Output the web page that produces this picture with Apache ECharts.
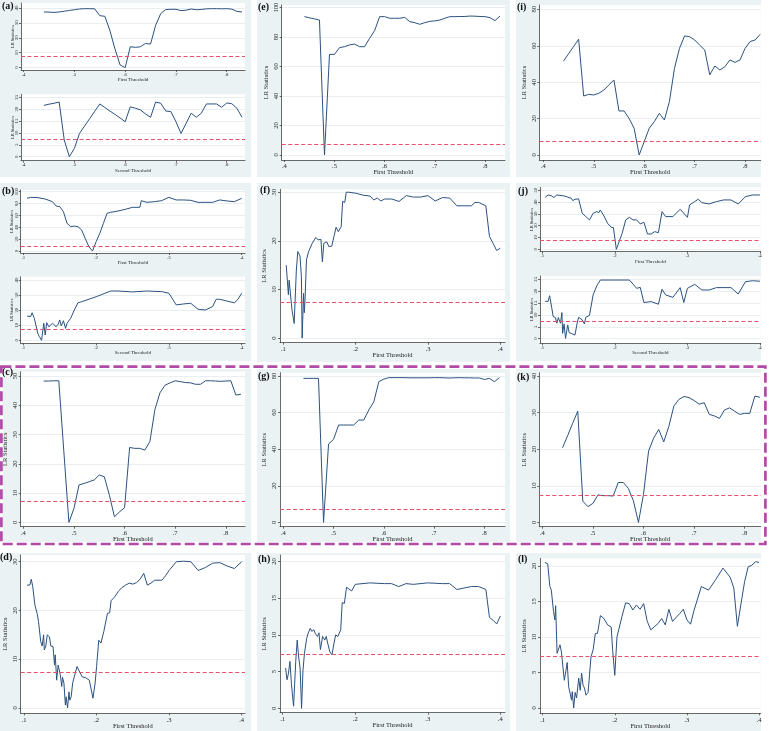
<!DOCTYPE html>
<html>
<head>
<meta charset="utf-8">
<title>LR statistics by threshold</title>
<script src="https://cdn.jsdelivr.net/npm/echarts@6/dist/echarts.min.js"></script>
<style>
  html, body { margin: 0; padding: 0; background: #fff; }
  #chart { width: 770px; height: 731px; }
</style>
</head>
<body>
<div id="chart"></div>
<script>
// tick values
const ticksMid = [0.4, 0.5, 0.6, 0.7, 0.8]
const ticksLow = [0.1, 0.2, 0.3, 0.4]
const yTicks5x25 = [0, 5, 10, 15, 20, 25]
const yTicks5x20 = [0, 5, 10, 15, 20]
const yTicks10x30 = [0, 10, 20, 30]
const yTicks10x40 = [0, 10, 20, 30, 40]
const yTicks10x50 = [0, 10, 20, 30, 40, 50]
const yTicks20x80 = [0, 20, 40, 60, 80]
const yTicks20x100 = [0, 20, 40, 60, 80, 100]

// critical value (dashed line)
const critValue = 7.35

// (a) first / second threshold
const aFirst = [[0.44,37.3],[0.45,37.2],[0.46,37.0],[0.47,37.3],[0.48,37.8],[0.49,38.3],[0.50,38.8],[0.51,39.3],[0.52,39.5],[0.53,39.5],[0.54,39.4],[0.55,34.8],[0.56,34.4],[0.57,24.7],[0.58,12.4],[0.59,1.8],[0.60,0],[0.61,14],[0.62,13.6],[0.63,14],[0.64,16.2],[0.65,15.8],[0.66,28.4],[0.67,36.2],[0.68,38.9],[0.69,39.1],[0.70,39.1],[0.71,38.2],[0.72,38.5],[0.73,39.3],[0.74,38.8],[0.75,39.0],[0.76,39.4],[0.77,39.5],[0.78,39.5],[0.79,39.4],[0.80,39.5],[0.81,39.2],[0.82,37.7],[0.83,37.3]]
const aSecond = [[0.44,21.6],[0.45,22.1],[0.46,22.5],[0.47,23],[0.48,7],[0.49,0],[0.50,3.5],[0.51,9.8],[0.52,12.9],[0.53,16],[0.54,19.1],[0.55,22.2],[0.56,20.7],[0.57,19.2],[0.58,17.8],[0.59,16.3],[0.60,14.7],[0.61,21],[0.62,20.4],[0.63,19.7],[0.64,18],[0.65,16.6],[0.66,23],[0.67,22.5],[0.68,19.2],[0.69,19],[0.70,14.7],[0.71,9.8],[0.72,14],[0.73,18.3],[0.74,16.6],[0.75,18.3],[0.76,22.2],[0.77,22.2],[0.78,22.2],[0.79,20.8],[0.80,22.6],[0.81,22.3],[0.82,20.4],[0.83,16.6]]

// (e)
const eFirst = [[0.44,93.9],[0.45,93.1],[0.46,92.4],[0.47,91.6],[0.48,0],[0.49,68.3],[0.50,68.3],[0.51,72.9],[0.52,73.5],[0.53,74.7],[0.54,75.3],[0.55,73.5],[0.56,73.5],[0.57,79.2],[0.58,84.4],[0.59,93.9],[0.60,93.9],[0.61,92.8],[0.62,92.8],[0.63,92.8],[0.64,93.4],[0.65,90.5],[0.66,89.8],[0.67,88.7],[0.68,89.8],[0.69,90.7],[0.70,91],[0.71,91.6],[0.72,92.8],[0.73,93.9],[0.74,93.9],[0.75,94],[0.76,94],[0.77,94.3],[0.78,94.2],[0.79,94],[0.80,93.9],[0.81,93.2],[0.82,91.2],[0.83,94.3]]

// (i)
const iFirst = [[0.44,51.6],[0.45,55.6],[0.46,59.6],[0.47,63.6],[0.48,32.4],[0.49,33.3],[0.50,33],[0.51,33.9],[0.52,35.7],[0.53,38.5],[0.54,41.2],[0.55,24.2],[0.56,24.2],[0.57,20.1],[0.58,14.7],[0.59,0],[0.60,7.3],[0.61,14.7],[0.62,18.3],[0.63,22.9],[0.64,19.2],[0.65,29.3],[0.66,47.6],[0.67,58.6],[0.68,65.4],[0.69,65],[0.70,63.2],[0.71,60.4],[0.72,57.7],[0.73,44],[0.74,48.9],[0.75,46.7],[0.76,48.5],[0.77,52.2],[0.78,50.9],[0.79,52.2],[0.80,58.6],[0.81,62.3],[0.82,63.2],[0.83,66.3]]

// (b) first / second threshold
const bFirst = [[0.105,88.8],[0.11,90.4],[0.12,89.9],[0.13,87.6],[0.14,83.1],[0.145,75.8],[0.15,74.7],[0.155,66.3],[0.16,46.6],[0.165,41],[0.17,42],[0.175,41],[0.18,35.4],[0.185,21.3],[0.19,7.3],[0.195,0],[0.20,15.7],[0.205,29.8],[0.21,46.6],[0.215,63.5],[0.22,65.2],[0.23,67.4],[0.24,70.2],[0.25,73.6],[0.26,73.6],[0.262,84.8],[0.27,82],[0.28,83.1],[0.29,84.8],[0.30,90.4],[0.31,86],[0.32,86],[0.33,85.4],[0.34,82],[0.35,82],[0.36,82],[0.37,86],[0.38,84.3],[0.39,83.1],[0.40,88.8]]
const bSecond = [[0.105,16.1],[0.11,15.7],[0.112,18.3],[0.115,14.6],[0.12,4.2],[0.122,2.4],[0.125,0],[0.128,11.3],[0.13,3.5],[0.132,11.7],[0.135,9],[0.14,11.3],[0.145,9],[0.148,10.8],[0.15,13.5],[0.152,9.5],[0.155,13],[0.158,7.9],[0.16,11.3],[0.165,14.6],[0.17,20.1],[0.175,24.9],[0.18,25.6],[0.20,28.9],[0.22,32.7],[0.23,32.7],[0.25,32.1],[0.27,32.7],[0.29,32.3],[0.30,31.2],[0.31,23.5],[0.32,24.1],[0.33,24.6],[0.34,20.6],[0.35,20.1],[0.36,22.3],[0.365,27.2],[0.37,27.2],[0.38,26],[0.39,24.9],[0.395,27.2],[0.40,31.2]]

// (f)
const fFirst = [[0.104,15],[0.107,8.9],[0.108,11.9],[0.11,11.9],[0.112,5.8],[0.115,3],[0.118,14],[0.12,17.8],[0.122,17.4],[0.123,16.9],[0.125,12.6],[0.126,0],[0.128,9.2],[0.129,5.2],[0.13,7.8],[0.132,16.1],[0.135,17.8],[0.137,17.4],[0.14,19.5],[0.142,19.1],[0.145,20.7],[0.148,20.2],[0.15,19.8],[0.152,20.3],[0.154,15.7],[0.156,19.5],[0.16,19.8],[0.163,18.8],[0.167,18.9],[0.17,20.9],[0.173,22.8],[0.176,21.9],[0.18,22.9],[0.182,28.1],[0.185,27.9],[0.187,30],[0.19,30],[0.20,29.8],[0.21,29.4],[0.22,29.2],[0.225,28.4],[0.23,28.8],[0.235,28.2],[0.24,28.6],[0.25,28.6],[0.26,28.1],[0.27,29.3],[0.28,29],[0.29,29],[0.30,29.3],[0.31,28.2],[0.32,28.9],[0.33,28.8],[0.34,27.2],[0.35,27.2],[0.36,27.2],[0.365,27.9],[0.37,27.9],[0.38,27.2],[0.385,20.9],[0.39,19.5],[0.395,18],[0.40,18.5]]

// (j) first / second threshold
const jFirst = [[0.104,44.1],[0.108,46],[0.11,44.6],[0.113,45.2],[0.116,43.8],[0.12,46],[0.13,45.2],[0.14,43.2],[0.142,41.2],[0.145,42.4],[0.15,42.7],[0.155,30.5],[0.16,27.7],[0.165,24.9],[0.17,30.5],[0.175,31.9],[0.178,31.1],[0.18,33.3],[0.185,28.2],[0.19,22],[0.195,18.6],[0.198,18.4],[0.20,9.3],[0.202,0],[0.21,13.6],[0.215,24.9],[0.22,27.1],[0.225,24.9],[0.23,24.9],[0.235,21.5],[0.24,22.9],[0.245,13],[0.25,13],[0.255,15],[0.26,14.1],[0.265,31.9],[0.27,27.7],[0.28,27.7],[0.29,33.9],[0.30,27.1],[0.303,37.6],[0.31,40.4],[0.315,42.4],[0.32,39.5],[0.33,38.4],[0.34,40.4],[0.35,41.8],[0.36,41.8],[0.37,38.4],[0.38,44.6],[0.39,46],[0.40,46]]
const jSecond = [[0.104,15.7],[0.108,15.7],[0.11,18.1],[0.113,13],[0.115,9.3],[0.118,8.9],[0.12,6.5],[0.122,8.9],[0.125,6.5],[0.127,11],[0.128,2.2],[0.13,6.2],[0.132,0.1],[0.135,5.8],[0.137,2.5],[0.14,2.2],[0.142,2.9],[0.145,1.5],[0.148,6.5],[0.15,9],[0.155,7.9],[0.158,6.2],[0.16,9],[0.165,9.8],[0.17,18.4],[0.175,22.2],[0.18,24.7],[0.20,24.7],[0.22,24.7],[0.225,23],[0.23,21.2],[0.235,21.6],[0.24,15.2],[0.25,15.6],[0.26,14.5],[0.265,20.8],[0.27,18.4],[0.28,17.4],[0.29,21.5],[0.295,15.2],[0.30,21.2],[0.31,22.9],[0.32,20.5],[0.33,20.5],[0.34,21.5],[0.36,21.5],[0.37,18.8],[0.38,24],[0.39,24.4],[0.40,24.2]]

// (c)
const cFirst = [[0.44,48.3],[0.45,48.3],[0.46,48.4],[0.47,48.4],[0.48,24.1],[0.49,0],[0.50,4.8],[0.51,12.8],[0.52,13.3],[0.53,13.9],[0.54,14.5],[0.55,16.2],[0.56,15.6],[0.57,9.3],[0.58,1.9],[0.59,3.6],[0.60,5],[0.61,25.6],[0.62,25.3],[0.63,25.3],[0.64,24.7],[0.65,27.6],[0.66,38.6],[0.67,44.3],[0.68,46.9],[0.69,47.7],[0.70,48.4],[0.71,48.1],[0.72,47.8],[0.73,47.7],[0.74,47.2],[0.75,47.2],[0.76,48.4],[0.77,48.4],[0.78,48.3],[0.79,48.2],[0.80,48.3],[0.81,48.4],[0.82,43.5],[0.83,43.8]]

// (g)
const gFirst = [[0.44,78.7],[0.45,78.7],[0.46,78.7],[0.47,78.7],[0.48,0],[0.49,42.8],[0.50,45.4],[0.51,53.2],[0.52,53.2],[0.53,53.2],[0.54,53.2],[0.55,55.9],[0.56,55.9],[0.57,61.4],[0.58,65.9],[0.59,76.9],[0.60,78.3],[0.61,79.1],[0.62,79.1],[0.63,79.1],[0.64,79.1],[0.65,79],[0.66,79],[0.67,79],[0.68,79],[0.69,79],[0.70,79.1],[0.71,79.1],[0.72,79],[0.73,78.9],[0.74,79],[0.75,79.1],[0.76,79],[0.77,79],[0.78,78.9],[0.79,78.9],[0.80,78.1],[0.81,78.7],[0.82,76.9],[0.83,79.1]]

// (k)
const kFirst = [[0.44,20.4],[0.45,23.7],[0.46,27.1],[0.47,30.4],[0.48,5.8],[0.49,4.3],[0.50,5.2],[0.51,7.5],[0.52,7.3],[0.53,7.3],[0.54,7.2],[0.55,10.9],[0.56,10.9],[0.57,9.3],[0.58,5.9],[0.59,0],[0.60,7.7],[0.61,19.5],[0.62,23],[0.63,25.4],[0.64,22],[0.65,26.2],[0.66,31.8],[0.67,33.6],[0.68,34.4],[0.69,34.1],[0.70,33.3],[0.71,32.3],[0.72,32.7],[0.73,29.5],[0.74,29.1],[0.75,28.4],[0.76,30.7],[0.77,31.3],[0.78,30.4],[0.79,29.5],[0.80,29.8],[0.81,29.8],[0.82,34.5],[0.83,34.2]]

// (d)
const dFirst = [[0.104,25.2],[0.108,25.2],[0.11,26.4],[0.112,24.9],[0.115,21.1],[0.118,19.4],[0.12,17.7],[0.121,18],[0.123,13.6],[0.125,12.7],[0.127,15],[0.128,11.9],[0.13,12.7],[0.132,15],[0.135,14.6],[0.137,12.7],[0.14,12.6],[0.142,8.8],[0.143,10.9],[0.145,5.7],[0.147,8.8],[0.15,6.8],[0.152,4.4],[0.153,6.3],[0.155,5.1],[0.157,0.6],[0.158,2.3],[0.16,0],[0.162,3.3],[0.163,1.6],[0.165,2.3],[0.167,5.1],[0.17,6.8],[0.173,8.5],[0.175,8.1],[0.18,6.4],[0.185,6.2],[0.19,5.7],[0.195,2],[0.198,5.1],[0.20,8.5],[0.203,13.9],[0.206,13.3],[0.21,15.7],[0.215,19.4],[0.218,19.5],[0.22,22],[0.225,22.8],[0.23,23.9],[0.235,24.7],[0.24,25.2],[0.245,25.6],[0.25,25.4],[0.255,25.7],[0.26,26.4],[0.265,27.6],[0.27,25.2],[0.275,25.6],[0.28,26.2],[0.29,26.2],[0.295,27.1],[0.30,28.2],[0.31,30],[0.32,30.1],[0.33,30],[0.34,28.2],[0.35,28.8],[0.36,29.7],[0.37,29.8],[0.38,29.1],[0.39,28.6],[0.40,30]]

// (h)
const hFirst = [[0.104,5.5],[0.106,3.9],[0.108,4.8],[0.11,6.4],[0.112,3.4],[0.115,0.3],[0.118,6.4],[0.12,9.3],[0.122,7],[0.124,5.5],[0.126,0],[0.128,5.2],[0.13,7.5],[0.133,9.5],[0.135,10.2],[0.138,10.9],[0.14,10.5],[0.143,10.7],[0.145,10.2],[0.148,9.8],[0.15,10.3],[0.152,8],[0.155,9.8],[0.158,9.3],[0.16,9.8],[0.162,8.9],[0.165,7.7],[0.168,7.3],[0.17,8.5],[0.173,10],[0.176,9.8],[0.18,10.7],[0.182,14.4],[0.185,14.3],[0.188,16.5],[0.19,16.5],[0.195,16],[0.20,16.9],[0.22,17.1],[0.24,17],[0.25,17],[0.26,16.6],[0.27,17],[0.28,16.9],[0.30,17.1],[0.32,17],[0.33,17],[0.34,16.2],[0.35,16.4],[0.36,16.6],[0.37,16.6],[0.38,16.2],[0.385,12.4],[0.39,12],[0.395,11.5],[0.40,12.6]]

// (l)
const lFirst = [[0.103,20.5],[0.107,20.3],[0.11,17.1],[0.112,16.6],[0.115,13.6],[0.117,12.4],[0.118,14.4],[0.12,7.7],[0.122,7.7],[0.124,8.9],[0.126,7.9],[0.128,7.9],[0.13,3.9],[0.132,5.1],[0.134,6.4],[0.136,3],[0.138,2.1],[0.14,1.1],[0.141,2.3],[0.143,0],[0.145,2.2],[0.147,1.4],[0.15,4.2],[0.152,2.5],[0.154,4.9],[0.156,3.2],[0.158,2.8],[0.16,1.8],[0.163,2.2],[0.167,7.2],[0.17,8.2],[0.173,10.5],[0.176,10.5],[0.178,11.7],[0.18,13],[0.185,12.6],[0.19,11.7],[0.195,11.4],[0.197,8.2],[0.20,4.6],[0.203,10],[0.21,12.9],[0.215,14.8],[0.22,14.7],[0.225,13.8],[0.23,14.5],[0.235,13.9],[0.24,14.7],[0.245,12.2],[0.25,11],[0.26,11.9],[0.265,12.6],[0.27,11.7],[0.275,13.9],[0.28,12.2],[0.29,13.3],[0.295,13.9],[0.30,12.4],[0.305,11.8],[0.31,13.8],[0.32,17.1],[0.33,16.6],[0.34,18.1],[0.35,19.7],[0.36,18.4],[0.365,16.9],[0.37,11.5],[0.375,14.7],[0.38,17.8],[0.385,19.9],[0.39,20.1],[0.395,20.6],[0.40,20.5]]

// layout: plot box [left, top, right, bottom] in px, axis extents
const plots = [
  { data: aFirst, xName: 'First Threshold', xt: ticksMid, yt: yTicks10x40, box: [21, 3, 245, 70], x: [0.3948, 0.836], y: [-1.56, 43.3], small: true },
  { data: aSecond, xName: 'Second Threshold', xt: ticksMid, yt: yTicks5x25, box: [21, 94.3, 245, 160.7], x: [0.3948, 0.836], y: [-1.69, 26.26], small: true },
  { data: eFirst, xName: 'First Threshold', xt: ticksMid, yt: yTicks20x100, box: [281.7, 5, 505, 160], x: [0.3947, 0.840], y: [-3.4, 101.8] },
  { data: iFirst, xName: 'First Threshold', xt: ticksMid, yt: yTicks20x80, box: [539.3, 5, 760.7, 160], x: [0.392, 0.831], y: [-2.75, 82.4] },
  { data: bFirst, xName: 'First Threshold', xt: ticksLow, yt: yTicks20x100, box: [20.7, 190, 245, 253], x: [0.0963, 0.4046], y: [-3.4, 102.8], small: true },
  { data: bSecond, xName: 'Second Threshold', xt: ticksLow, yt: yTicks10x40, box: [20.7, 276.7, 245, 343.3], x: [0.0963, 0.4046], y: [-2, 42.2], small: true },
  { data: fFirst, xName: 'First Threshold', xt: ticksLow, yt: yTicks10x30, box: [280, 189.3, 505, 342.7], x: [0.0954, 0.4065], y: [-0.96, 30.6] },
  { data: jFirst, xName: 'First Threshold', xt: ticksLow, yt: yTicks10x50, box: [540, 187.3, 760.7, 251.7], x: [0.0968, 0.401], y: [-2, 52.5], small: true },
  { data: jSecond, xName: 'Second Threshold', xt: ticksLow, yt: yTicks5x25, box: [540, 276, 760.7, 343.3], x: [0.0968, 0.401], y: [-1.97, 26.4], small: true },
  { data: cFirst, xName: 'First Threshold', xt: ticksMid, yt: yTicks10x50, box: [20.7, 371.7, 245, 526.7], x: [0.3947, 0.838], y: [-1.48, 51.5] },
  { data: gFirst, xName: 'First Threshold', xt: ticksMid, yt: yTicks20x80, box: [280, 372.7, 505, 526.7], x: [0.3934, 0.841], y: [-2.37, 81.8] },
  { data: kFirst, xName: 'First Threshold', xt: ticksMid, yt: yTicks10x40, box: [539.3, 372.7, 760.7, 526.7], x: [0.394, 0.8316], y: [-1.18, 40.9] },
  { data: dFirst, xName: 'First Threshold', xt: ticksLow, yt: yTicks10x30, box: [20.7, 555, 245, 713.3], x: [0.0954, 0.4046], y: [-1.09, 31.37] },
  { data: hFirst, xName: 'First Threshold', xt: ticksLow, yt: yTicks5x20, box: [280, 555, 505, 712.7], x: [0.0963, 0.4064], y: [-0.59, 20.9] },
  { data: lFirst, xName: 'First Threshold', xt: ticksLow, yt: yTicks5x20, box: [540, 558.3, 760.7, 713.3], x: [0.0963, 0.4023], y: [-0.75, 21.08] }
]

// panel backgrounds and letters
const panels = [
  { label: '(a)', rect: [0, 0, 251, 177], at: [2, 1] },
  { label: '(e)', rect: [257, 0, 510, 177], at: [258, 2] },
  { label: '(i)', rect: [516, 0, 761, 177], at: [517, 2] },
  { label: '(b)', rect: [0, 183, 251, 361], at: [2, 186] },
  { label: '(f)', rect: [257, 183, 510, 362], at: [260, 185] },
  { label: '(j)', rect: [516, 183, 761, 361], at: [518, 186] },
  { label: '(c)', rect: [3, 369, 251, 542], at: [2, 367] },
  { label: '(g)', rect: [257, 369, 510, 542], at: [258, 371] },
  { label: '(k)', rect: [516, 369, 761, 542], at: [517, 372] },
  { label: '(d)', rect: [0, 553, 251, 731], at: [0, 552] },
  { label: '(h)', rect: [257, 553, 510, 731], at: [258, 554] },
  { label: '(l)', rect: [516, 553, 761, 731], at: [518, 554] }
]

const serif = "'Liberation Serif', 'Times New Roman', serif"
const bgColor = '#eaf2f3'
const lineColor = '#2c5280'
const critColor = '#e8506a'

const fmtTick = (v) => {
  const s = String(Math.round(v * 100) / 100)
  return s.replace(/^0\./, '.')
}

const chart = echarts.init(document.getElementById('chart'), null, { renderer: 'canvas' })

const grids = []
const xAxes = []
const yAxes = []
const series = []

plots.forEach((p, i) => {
  const [l, t, r, b] = p.box
  const fs = p.small ? 4.8 : 6.5
  grids.push({
    left: l, top: t, width: r - l, height: b - t,
    show: true, backgroundColor: '#fff', borderWidth: 0,
    containLabel: false, outerBoundsMode: 'none'
  })
  xAxes.push({
    type: 'value', gridIndex: i, min: p.x[0], max: p.x[1],
    name: p.xName, nameLocation: 'middle', nameGap: p.small ? 7 : 9,
    nameMoveOverlap: false,
    nameTextStyle: { fontFamily: serif, fontSize: p.small ? 5 : 6.5, color: '#222' },
    axisLine: { show: true, onZero: false, lineStyle: { color: '#444', width: 0.8 } },
    axisTick: { show: true, length: 2, customValues: p.xt, lineStyle: { color: '#444', width: 0.8 } },
    axisLabel: { customValues: p.xt, formatter: fmtTick, margin: p.small ? 2 : 3,
      fontFamily: serif, fontSize: fs, color: '#222' },
    splitLine: { show: false }
  })
  yAxes.push({
    type: 'value', gridIndex: i, min: p.y[0], max: p.y[1],
    name: 'LR Statistics', nameLocation: 'middle', nameGap: p.small ? 6 : 12,
    nameMoveOverlap: false,
    nameTextStyle: { fontFamily: serif, fontSize: p.small ? 4.5 : 6.5, color: '#222' },
    axisLine: { show: true, onZero: false, lineStyle: { color: '#444', width: 0.8 } },
    axisTick: { show: true, length: 2, customValues: p.yt, lineStyle: { color: '#444', width: 0.8 } },
    axisLabel: { customValues: p.yt, rotate: 90, margin: p.small ? 1.5 : 2,
      fontFamily: serif, fontSize: fs, color: '#222' },
    splitLine: { show: true, lineStyle: { color: '#e3ebee', width: 0.8 } }
  })
  series.push({
    type: 'line', xAxisIndex: i, yAxisIndex: i, data: p.data,
    showSymbol: false, symbol: 'none',
    lineStyle: { color: lineColor, width: 1 },
    markLine: {
      silent: true, symbol: 'none', label: { show: false },
      lineStyle: { color: critColor, type: [4, 2.5], width: p.small ? 1.2 : 1 },
      data: [{ yAxis: critValue }]
    }
  })
})

const graphic = []
panels.forEach((pn) => {
  const [x0, y0, x1, y1] = pn.rect
  graphic.push({
    type: 'rect', z: -10, silent: true,
    shape: { x: x0, y: y0, width: x1 - x0, height: y1 - y0 },
    style: { fill: bgColor }
  })
  graphic.push({
    type: 'text', z: 50, silent: true, x: pn.at[0], y: pn.at[1],
    style: { text: pn.label, font: "bold 10px 'Liberation Serif', 'Times New Roman', serif", fill: '#111' }
  })
})
// dashed highlight box around the third row
graphic.push({
  type: 'rect', z: 60, silent: true,
  shape: { x: 1.4, y: 366.7, width: 764, height: 177.3 },
  style: { fill: 'none', stroke: '#b24aa8', lineWidth: 2.7, lineDash: [10, 4] }
})

chart.setOption({
  animation: false,
  backgroundColor: '#fff',
  grid: grids,
  xAxis: xAxes,
  yAxis: yAxes,
  series: series,
  graphic: graphic
})
</script>
</body>
</html>
